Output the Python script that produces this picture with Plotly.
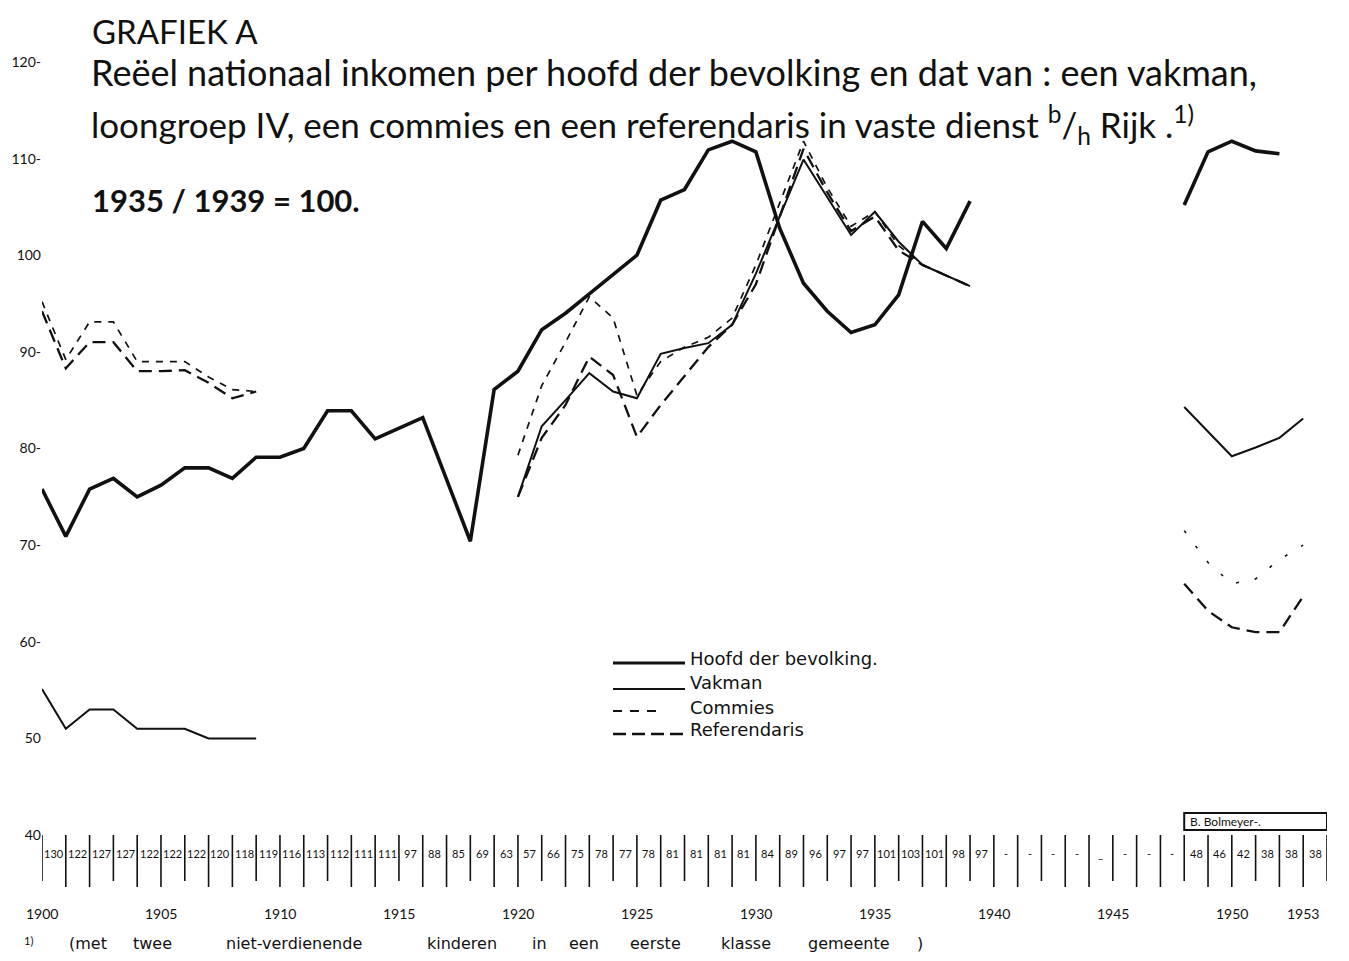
import plotly.graph_objects as go

# ---------------- data ----------------
years = list(range(1900, 1954))
N = None

hoofd = [75.8, 70.9, 75.8, 76.9, 75.0, 76.2, 78.0, 78.0, 76.9, 79.1,
         79.1, 80.0, 83.9, 83.9, 81.0, 82.1, 83.2, 76.8, 70.4, 86.1,
         88.0, 92.3, 94.0, 96.0, 98.0, 100.0, 105.7, 106.8, 110.9, 111.8,
         110.7, 102.8, 97.1, 94.2, 92.0, 92.8, 95.9, 103.5, 100.7, 105.6,
         N, N, N, N, N, N, N, N, 105.2, 110.7, 111.8, 110.8, 110.5, N]

vakman = [55.1, 51.0, 53.0, 53.0, 51.0, 51.0, 51.0, 50.0, 50.0, 50.0,
          N, N, N, N, N, N, N, N, N, N,
          75.0, 82.3, 85.0, 87.8, 85.9, 85.2, 89.8, 90.4, 90.9, 92.8,
          98.1, 104.1, 109.9, 106.0, 102.1, 104.5, 101.4, 99.0, 97.9, 96.8,
          N, N, N, N, N, N, N, N, 84.3, 81.8, 79.2, 80.1, 81.1, 83.1]

commies = [95.2, 89.2, 93.1, 93.1, 89.0, 89.0, 89.0, 87.4, 86.1, 85.9,
           N, N, N, N, N, N, N, N, N, N,
           79.3, 86.5, 91.0, 95.7, 93.5, 85.5, 89.0, 90.5, 91.5, 93.5,
           99.0, 105.5, 111.8, 107.0, 103.0, 104.5, 101.0, 99.0, 97.9, 96.8,
           N, N, N, N, N, N, N, N, 71.5, 68.2, 66.0, 66.5, 68.5, 70.0]

referendaris = [94.2, 88.3, 91.0, 91.0, 88.0, 88.0, 88.1, 86.8, 85.2, 85.9,
                N, N, N, N, N, N, N, N, N, N,
                75.0, 81.1, 84.5, 89.5, 87.6, 81.2, 84.5, 87.5, 90.5, 92.8,
                97.0, 104.0, 111.0, 106.5, 102.5, 104.0, 100.5, 99.0, 97.9, 96.8,
                N, N, N, N, N, N, N, N, 66.0, 63.2, 61.5, 61.0, 61.0, 64.7]

table_vals = ["130", "122", "127", "127", "122", "122", "122", "120", "118", "119",
              "116", "113", "112", "111", "111", "97", "88", "85", "69", "63",
              "57", "66", "75", "78", "77", "78", "81", "81", "81", "81",
              "84", "89", "96", "97", "97", "101", "103", "101", "98", "97",
              "-", "-", "-", "-", "_", "-", "-", "-", "48", "46", "42", "38", "38", "38"]

year_labels = [1900, 1905, 1910, 1915, 1920, 1925, 1930, 1935, 1940, 1945, 1950, 1953]
y_tickvals = [40, 50, 60, 70, 80, 90, 100, 110, 120]
y_ticktext = ["40", "50", "60-", "70-", "80-", "90-", "100", "110-", "120-"]

footnote_words = ["(met", "twee", "niet-verdienende", "kinderen", "in", "een",
                  "eerste", "klasse", "gemeente", ")"]

# ---------------- layout helpers ----------------
# the page body has an 8px margin; all targets below are page pixels
OFF = 8
W, H = 1349 - 2 * OFF, 961 - 2 * OFF
PLOT_L, PLOT_R, PLOT_T, PLOT_B = 42, 1327, 62, 835       # page pixels
ML, MT = PLOT_L - OFF, PLOT_T - OFF
MR = W - (PLOT_R - OFF)
MB = H - (PLOT_B - OFF)
PW, PH = PLOT_R - PLOT_L, PLOT_B - PLOT_T


def px(x):
    return (x - PLOT_L) / PW


def py(y):
    return (PLOT_B - y) / PH


FONT = "Lato"
BLACK = "#111111"

fig = go.Figure()

fig.add_trace(go.Scatter(x=years, y=hoofd, mode="lines", name="Hoofd der bevolking",
                         line=dict(color=BLACK, width=3.6), connectgaps=False))
fig.add_trace(go.Scatter(x=years, y=vakman, mode="lines", name="Vakman",
                         line=dict(color=BLACK, width=2.0), connectgaps=False))
# commies: pre-1940 as short dashes, post-war barely visible specks
commies_pre = [v if yr < 1940 else None for yr, v in zip(years, commies)]
commies_post = [v if yr >= 1940 else None for yr, v in zip(years, commies)]
fig.add_trace(go.Scatter(x=years, y=commies_pre, mode="lines", name="Commies",
                         line=dict(color=BLACK, width=1.7, dash="7px,7px"), connectgaps=False))
fig.add_trace(go.Scatter(x=years, y=commies_post, mode="lines", name="Commies (1948-53)",
                         line=dict(color=BLACK, width=1.6, dash="3px,16px"), connectgaps=False))
fig.add_trace(go.Scatter(x=years, y=referendaris, mode="lines", name="Referendaris",
                         line=dict(color=BLACK, width=2.3, dash="13px,7px"), connectgaps=False))

shapes = []
annotations = []


def note(x, y, text, size, xanchor="left", xref="paper", family=FONT):
    annotations.append(dict(x=x, y=y, xref=xref, yref="paper", text=text,
                            xanchor=xanchor, yanchor="middle", showarrow=False,
                            font=dict(family=family, size=size, color=BLACK)))


# table below the chart: cell dividers and values
for i, yr in enumerate(years + [1954]):
    shapes.append(dict(type="line", xref="x", yref="paper", x0=yr, x1=yr,
                       y0=py(835), y1=py(887 if i % 3 else 881),
                       line=dict(color=BLACK, width=1.6)))
for yr, v in zip(years, table_vals):
    note(yr + 0.5, py(853), v, 11, xanchor="center", xref="x")

# signature box
shapes.append(dict(type="rect", xref="x", yref="paper", x0=1948, x1=1954,
                   y0=py(830), y1=py(813), line=dict(color=BLACK, width=2)))
note(1948.15, py(821.5), "B. Bolmeyer-.", 12, xref="x")

# year labels
for yl in year_labels:
    note(yl, py(913), str(yl), 14, xanchor="center", xref="x")

# legend drawn by hand
leg = [("Hoofd der bevolking.", 663, 685, 3.0, "solid", 658),
       ("Vakman", 689, 685, 2.0, "solid", 682),
       ("Commies", 711, 663, 1.8, "9px,8px", 707),
       ("Referendaris", 734, 685, 2.4, "13px,6px", 729)]
for label, ly, x_end, lw, dsh, ty in leg:
    shapes.append(dict(type="line", xref="paper", yref="paper", x0=px(613), x1=px(x_end),
                       y0=py(ly), y1=py(ly), line=dict(color=BLACK, width=lw, dash=dsh)))
    note(px(688), py(ty), label, 18, family="DejaVu Sans")

# titles
note(px(90), py(31), "GRAFIEK A", 33)
note(px(89), py(72), "Reëel nationaal inkomen per hoofd der bevolking en dat van : een vakman,", 36)
note(px(89), py(125),
     "loongroep IV, een commies en een referendaris in vaste dienst <sup>b</sup>/<sub>h</sub> Rijk .<sup>1)</sup>", 35)
note(px(90), py(200), "<b>1935 / 1939 = 100.</b>", 31)

# footnote
note(px(22), py(940), "<sup>1)</sup>", 16)
cursor = 0
for w in footnote_words:
    start = cursor
    cursor += len(w) + 1
    centre = 62 + (start + len(w) / 2) * 12.9
    note(px(centre), py(943), w, 16, xanchor="center", family="DejaVu Sans")

fig.update_layout(
    width=W, height=H,
    margin=dict(l=ML, r=MR, t=MT, b=MB, pad=0, autoexpand=False),
    paper_bgcolor="white", plot_bgcolor="white",
    showlegend=False,
    shapes=shapes, annotations=annotations,
    xaxis=dict(range=[1900, 1954], showgrid=False, zeroline=False, showline=False,
               showticklabels=False, ticks="", automargin=False),
    yaxis=dict(range=[40, 120], showgrid=False, zeroline=False, showline=False,
               tickvals=y_tickvals, ticktext=y_ticktext, ticks="", ticklabelstandoff=0,
               automargin=False,
               tickfont=dict(family=FONT, size=14, color=BLACK)),
)

fig.write_html("out.html")
